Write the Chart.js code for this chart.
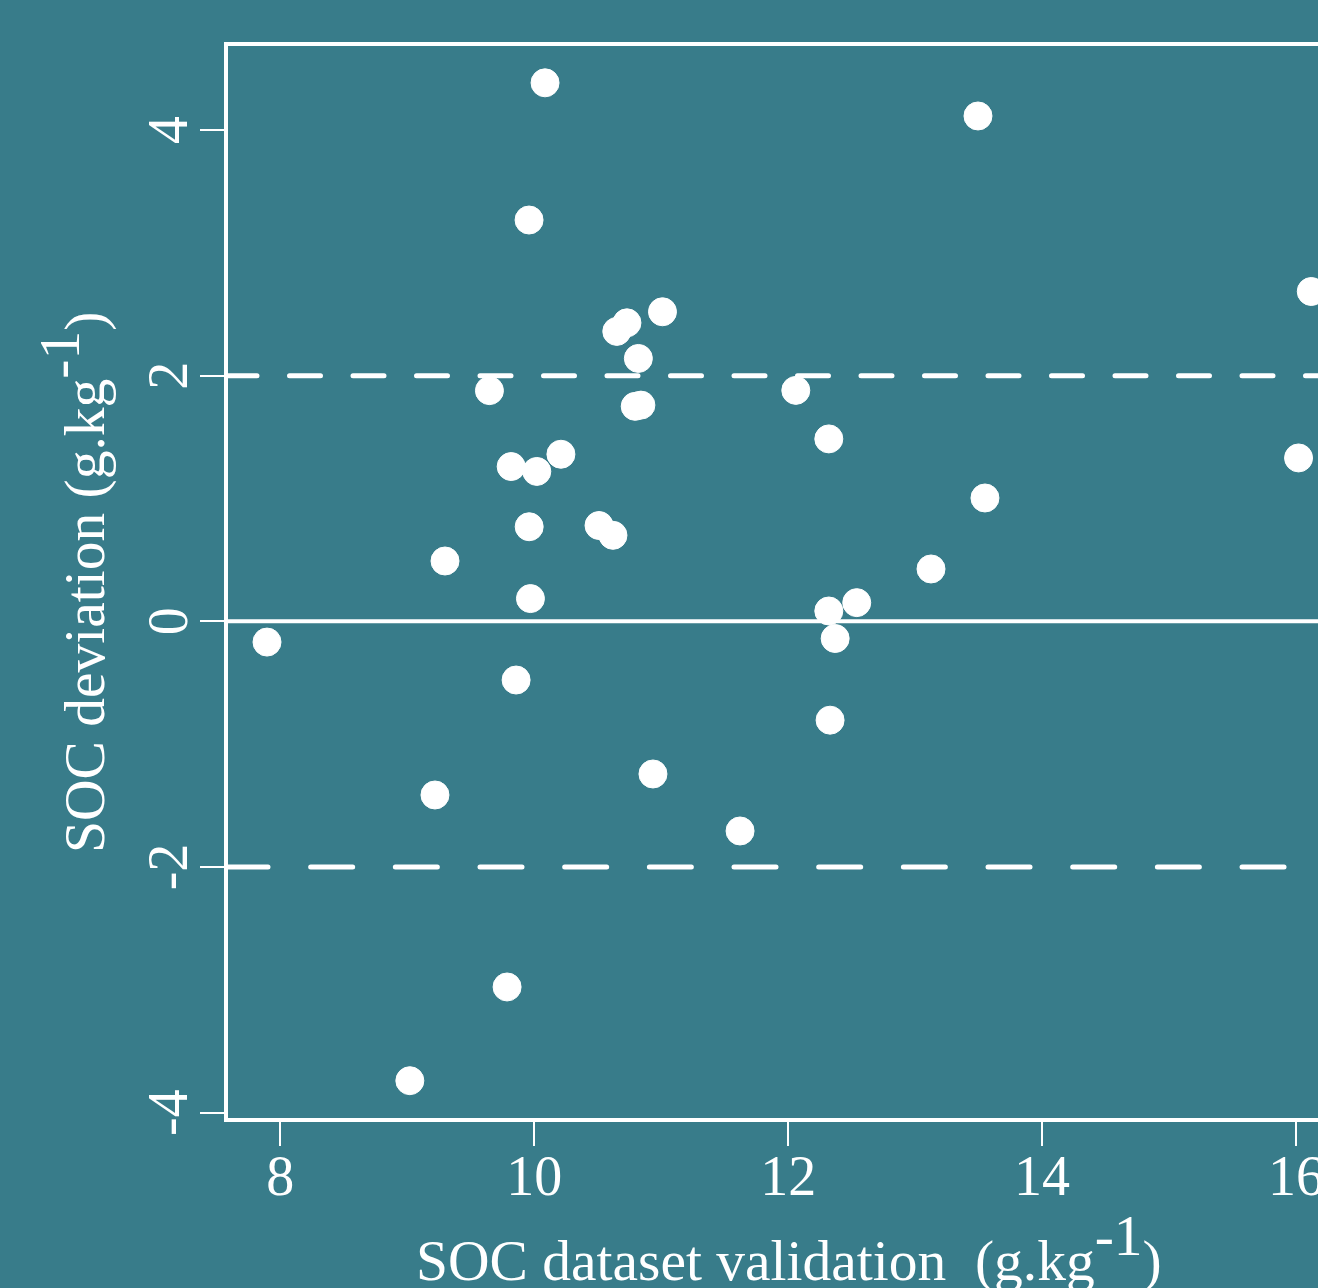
<!DOCTYPE html>
<html>
<head>
<meta charset="utf-8">
<script src="https://cdn.jsdelivr.net/npm/chart.js@4/dist/chart.umd.min.js"></script>
<style>
html, body { margin: 0; padding: 0; background: #387C8A; overflow: hidden; width: 1318px; height: 1288px; }
#wrap { position: absolute; left: 0; top: 0; width: 1420px; height: 1288px; }
</style>
</head>
<body>
<div id="wrap"><canvas id="c"></canvas></div>
<script>
// ---- data ----
const socValidation = [7.895, 9.02, 9.218, 9.297, 9.647, 9.786, 9.818, 9.857, 9.959, 9.96, 9.97, 10.02, 10.085, 10.21, 10.51, 10.62, 10.65, 10.73, 10.82, 10.795, 10.84, 10.935, 11.01, 11.621, 12.06, 12.32, 12.32, 12.37, 12.33, 12.54, 13.125, 13.495, 13.55, 16.02, 16.12];
const socDeviation  = [-0.169, -3.74, -1.414, 0.491, 1.878, -2.977, 1.26, -0.478, 3.267, 0.77, 0.185, 1.22, 4.384, 1.36, 0.78, 0.70, 2.36, 2.43, 2.14, 1.75, 1.76, -1.243, 2.52, -1.707, 1.88, 1.485, 0.084, -0.14, -0.805, 0.152, 0.426, 4.114, 1.004, 1.33, 2.685];
const xTickValues = [8, 10, 12, 14, 16];
const yTickValues = [-4, -2, 0, 2, 4];
const xLimits = [7.572, 16.819];
const yLimits = [-4.06, 4.70];
const zeroLevel = [0];
const limitLevels = [2, -2];
const xTitle = 'SOC dataset validation  (g.kg';
const yTitle = 'SOC deviation (g.kg';
const unitSup = '-1';
const unitTail = ')';

const BG = '#387C8A';
const FG = '#ffffff';
const FONT = '"Liberation Serif", "Times New Roman", serif';

const points = socValidation.map((x, i) => ({ x: x, y: socDeviation[i] }));
const hline = v => [{ x: xLimits[0], y: v }, { x: xLimits[1], y: v }];

function drawSupText(ctx, x, y, angle, main, sup, tail, size, raise) {
  ctx.save();
  ctx.translate(x, y);
  ctx.rotate(angle);
  ctx.font = size + 'px ' + FONT;
  ctx.fillStyle = FG;
  ctx.textAlign = 'left';
  ctx.textBaseline = 'alphabetic';
  ctx.fillText(main, 0, 0);
  let w = ctx.measureText(main).width;
  ctx.fillText(sup, w, -raise);
  w += ctx.measureText(sup).width;
  ctx.fillText(tail, w, 0);
  ctx.restore();
}

const decor = {
  id: 'decor',
  beforeDraw(chart) {
    const ctx = chart.ctx;
    ctx.save();
    ctx.fillStyle = BG;
    ctx.fillRect(0, 0, chart.width, chart.height);
    ctx.restore();
  },
  beforeDatasetsDraw(chart) {
    const { ctx, chartArea: a } = chart;
    ctx.save();
    ctx.strokeStyle = FG;
    ctx.lineWidth = 4;
    ctx.strokeRect(a.left, a.top, a.right - a.left, a.bottom - a.top);
    ctx.restore();
  },
  afterDraw(chart) {
    const { ctx, chartArea: a } = chart;
    const ys = chart.scales.y;
    ctx.save();
    ctx.fillStyle = FG;
    ctx.font = '56px ' + FONT;
    ctx.textAlign = 'center';
    ctx.textBaseline = 'alphabetic';
    ys.ticks.forEach(t => {
      const p = ys.getPixelForValue(t.value);
      ctx.save();
      ctx.translate(a.left - 39, p);
      ctx.rotate(-Math.PI / 2);
      ctx.fillText(String(t.value), 0, 0);
      ctx.restore();
    });
    ctx.restore();
    drawSupText(ctx, 416, 1280, 0, xTitle, unitSup, unitTail, 57.5, 25);
    drawSupText(ctx, 104, 853, -Math.PI / 2, yTitle, unitSup, unitTail, 57.5, 25);
  }
};

new Chart(document.getElementById('c'), {
  type: 'scatter',
  data: {
    datasets: [
      {
        label: 'SOC deviation',
        data: points,
        backgroundColor: FG,
        borderColor: FG,
        borderWidth: 1,
        pointRadius: 14,
        pointHoverRadius: 14
      },
      {
        type: 'line', label: 'zero', data: hline(zeroLevel[0]),
        borderColor: FG, borderWidth: 4, pointRadius: 0, fill: false
      },
      {
        type: 'line', label: 'upper', data: hline(limitLevels[0]),
        borderColor: FG, borderWidth: 5, pointRadius: 0, fill: false,
        borderDash: [31, 32.5], borderCapStyle: 'round'
      },
      {
        type: 'line', label: 'lower', data: hline(limitLevels[1]),
        borderColor: FG, borderWidth: 5, pointRadius: 0, fill: false,
        borderDash: [42, 42.67], borderCapStyle: 'round'
      }
    ]
  },
  options: {
    responsive: true,
    maintainAspectRatio: false,
    animation: false,
    events: [],
    layout: { padding: { top: 44, right: 20, left: 0, bottom: 0 } },
    plugins: { legend: { display: false }, tooltip: { enabled: false } },
    scales: {
      x: {
        type: 'linear', position: 'bottom',
        min: xLimits[0], max: xLimits[1],
        afterBuildTicks: s => { s.ticks = xTickValues.map(v => ({ value: v })); },
        afterFit: s => { s.height = 168; },
        grid: { drawOnChartArea: false, drawTicks: true, tickLength: 26, color: FG, lineWidth: 2 },
        border: { display: false },
        ticks: { color: FG, font: { family: FONT, size: 56 }, padding: 1, maxRotation: 0, autoSkip: false }
      },
      y: {
        type: 'linear', position: 'left',
        min: yLimits[0], max: yLimits[1],
        afterBuildTicks: s => { s.ticks = yTickValues.map(v => ({ value: v })); },
        afterFit: s => { s.width = 226; },
        grid: { drawOnChartArea: false, drawTicks: true, tickLength: 26, color: FG, lineWidth: 2 },
        border: { display: false },
        ticks: { display: false }
      }
    }
  },
  plugins: [decor]
});
</script>
</body>
</html>
